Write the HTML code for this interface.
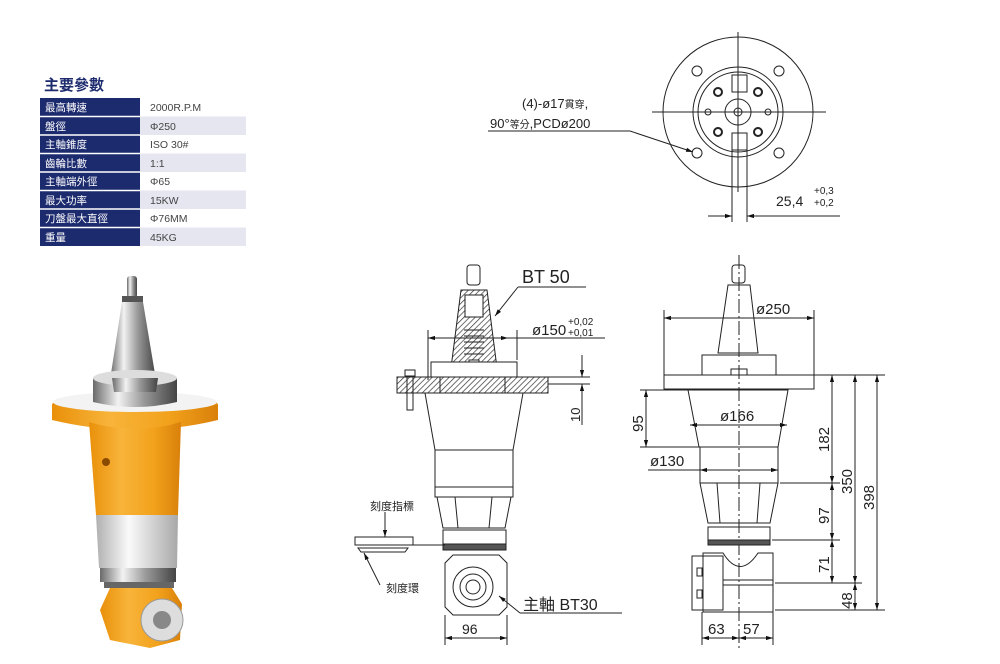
<!DOCTYPE html>
<html><head><meta charset="utf-8"><style>
body{margin:0;background:#fff}
svg{display:block}
.t{font-family:"Liberation Sans","Noto Sans CJK TC",sans-serif}
.d{font-family:"Liberation Sans","Noto Sans CJK TC",sans-serif;fill:#222}
</style></head><body>
<svg width="1000" height="664" viewBox="0 0 1000 664" xmlns="http://www.w3.org/2000/svg">
<defs>
<linearGradient id="or" x1="0" x2="1"><stop offset="0" stop-color="#e9900a"/><stop offset=".35" stop-color="#f8b43a"/><stop offset=".7" stop-color="#f2a21c"/><stop offset="1" stop-color="#d9800a"/></linearGradient>
<linearGradient id="sil" x1="0" x2="1"><stop offset="0" stop-color="#6a6a6a"/><stop offset=".3" stop-color="#f2f2f2"/><stop offset=".6" stop-color="#9a9a9a"/><stop offset="1" stop-color="#444"/></linearGradient>
<linearGradient id="wh" x1="0" x2="1"><stop offset="0" stop-color="#b0b0b0"/><stop offset=".4" stop-color="#fafafa"/><stop offset="1" stop-color="#a8a8a8"/></linearGradient>
<pattern id="h" width="4" height="4" patternUnits="userSpaceOnUse" patternTransform="rotate(45)"><rect width="4" height="4" fill="#fff"/><line x1="0" y1="0" x2="0" y2="4" stroke="#333" stroke-width="1.4"/></pattern>
<marker id="a" viewBox="0 0 10 10" refX="10" refY="5" markerWidth="7" markerHeight="7" orient="auto-start-reverse"><path d="M0,2 L10,5 L0,8z" fill="#111"/></marker>
</defs>

<!-- table -->
<text x="44" y="90" class="t" font-size="15" font-weight="bold" fill="#1c2a6e">主要參數</text>
<g class="t" font-size="10.5">
<rect x="40" y="98" width="100" height="148" fill="#1c2a6e"/>
<rect x="140" y="98" width="106" height="18.5" fill="#fff"/>
<rect x="140" y="116.5" width="106" height="18.5" fill="#e6e6f0"/>
<rect x="140" y="135" width="106" height="18.5" fill="#fff"/>
<rect x="140" y="153.5" width="106" height="18.5" fill="#e6e6f0"/>
<rect x="140" y="172" width="106" height="18.5" fill="#fff"/>
<rect x="140" y="190.5" width="106" height="18.5" fill="#e6e6f0"/>
<rect x="140" y="209" width="106" height="18.5" fill="#fff"/>
<rect x="140" y="227.5" width="106" height="18.5" fill="#e6e6f0"/>
<g stroke="#fff" stroke-width="1.5"><line x1="40" y1="116.5" x2="140" y2="116.5"/><line x1="40" y1="135" x2="140" y2="135"/><line x1="40" y1="153.5" x2="140" y2="153.5"/><line x1="40" y1="172" x2="140" y2="172"/><line x1="40" y1="190.5" x2="140" y2="190.5"/><line x1="40" y1="209" x2="140" y2="209"/><line x1="40" y1="227.5" x2="140" y2="227.5"/></g>
<g fill="#fff"><text x="45" y="111">最高轉速</text><text x="45" y="130">盤徑</text><text x="45" y="148">主軸錐度</text><text x="45" y="167">齒輪比數</text><text x="45" y="185">主軸端外徑</text><text x="45" y="204">最大功率</text><text x="45" y="222">刀盤最大直徑</text><text x="45" y="241">重量</text></g>
<g fill="#444"><text x="150" y="111">2000R.P.M</text><text x="150" y="130">Φ250</text><text x="150" y="148">ISO 30#</text><text x="150" y="167">1:1</text><text x="150" y="185">Φ65</text><text x="150" y="204">15KW</text><text x="150" y="222">Φ76MM</text><text x="150" y="241">45KG</text></g>
</g>

<!-- photo -->
<g>
<rect x="127" y="276" width="10" height="22" rx="3" fill="url(#sil)"/>
<rect x="122" y="296" width="21" height="6" fill="#555"/>
<path d="M122,302 L143,302 L156,380 L110,380z" fill="url(#sil)"/>
<ellipse cx="135" cy="405" rx="83" ry="12" fill="#e48a0c"/>
<path d="M52,405 L52,420 Q135,440 218,420 L218,405z" fill="url(#or)"/>
<ellipse cx="135" cy="402" rx="82" ry="10" fill="#f3f3f3"/>
<path d="M93,378 L177,378 L177,402 Q135,412 93,402z" fill="url(#sil)"/>
<ellipse cx="135" cy="378" rx="42" ry="8" fill="#ddd"/>
<path d="M112,378 L158,378 L156,392 L114,392z" fill="url(#sil)"/>
<path d="M89,422 Q135,436 181,422 L178,515 L96,515z" fill="url(#or)"/>
<circle cx="106" cy="462" r="4" fill="#8a4a00"/>
<path d="M96,515 L178,515 L177,568 L99,568z" fill="url(#wh)"/>
<rect x="100" y="568" width="76" height="14" fill="url(#sil)"/>
<rect x="104" y="582" width="70" height="6" fill="#666"/>
<path d="M110,588 L172,588 L182,604 L180,640 L150,648 L110,640 L100,610z" fill="url(#or)"/>
<circle cx="162" cy="620" r="21" fill="#ddd" stroke="#999"/>
<circle cx="162" cy="620" r="9" fill="#888"/>
</g>

<!-- top view -->
<g fill="none" stroke="#222" stroke-width="1">
<circle cx="738" cy="112" r="75"/>
<circle cx="738" cy="112" r="45"/><circle cx="738" cy="112" r="40"/>
<circle cx="738" cy="112" r="13"/><circle cx="738" cy="112" r="4"/>
<circle cx="697" cy="71" r="5"/><circle cx="779" cy="71" r="5"/><circle cx="697" cy="153" r="5"/><circle cx="779" cy="153" r="5"/>
<circle cx="718" cy="92" r="4" stroke-width="2"/><circle cx="758" cy="92" r="4" stroke-width="2"/><circle cx="718" cy="132" r="4" stroke-width="2"/><circle cx="758" cy="132" r="4" stroke-width="2"/>
<circle cx="708" cy="112" r="3"/><circle cx="768" cy="112" r="3"/>
<rect x="732" y="75" width="15" height="17"/><rect x="732" y="133" width="15" height="17"/>
<line x1="738" y1="32" x2="738" y2="192"/><line x1="652" y1="112" x2="826" y2="112"/>
<line x1="732" y1="150" x2="732" y2="222"/><line x1="747" y1="150" x2="747" y2="222"/>
<line x1="708" y1="216" x2="732" y2="216" marker-end="url(#a)"/><line x1="840" y1="216" x2="747" y2="216" marker-end="url(#a)"/>
<line x1="488" y1="131" x2="630" y2="131"/><line x1="630" y1="131" x2="693" y2="152" marker-end="url(#a)"/>
</g>
<g class="d" font-size="13"><text x="522" y="108">(4)-ø17<tspan font-size="10">貫穿</tspan>,</text><text x="490" y="128">90°<tspan font-size="10">等分</tspan>,PCDø200</text>
<text x="776" y="206" font-size="14">25,4</text><text x="814" y="194" font-size="10">+0,3</text><text x="814" y="206" font-size="10">+0,2</text></g>

<!-- front section view -->
<g fill="none" stroke="#222" stroke-width="1">
<rect x="467" y="265" width="13" height="20" rx="3"/>
<path d="M461,290 L487,290 L497,368 L451,368z" fill="url(#h)"/>
<rect x="465" y="295" width="18" height="22" fill="#fff"/>
<path d="M464,330 h20 M464,336 h20 M464,342 h20 M464,348 h20 M464,354 h20" />
<rect x="469" y="360" width="10" height="14" fill="#fff"/>
<rect x="431" y="362" width="86" height="15" fill="#fff"/>
<rect x="397" y="377" width="151" height="16" fill="url(#h)"/>
<rect x="440" y="377" width="65" height="16" fill="url(#h)"/>
<rect x="405" y="370" width="10" height="6"/><rect x="407" y="376" width="6" height="34"/>
<path d="M425,393 L523,393 L513,450 L435,450z"/>
<rect x="435" y="450" width="78" height="47"/><line x1="435" y1="487" x2="513" y2="487"/>
<path d="M437,497 L511,497 L505,528 L443,528z"/>
<line x1="455" y1="497" x2="458" y2="528"/><line x1="492" y1="497" x2="489" y2="528"/>
<rect x="443" y="530" width="63" height="14"/>
<rect x="443" y="544" width="63" height="6" fill="#555"/>
<path d="M453,555 L499,555 L507,563 L507,607 L499,615 L453,615 L445,607 L445,563z"/>
<circle cx="473" cy="587" r="20"/><circle cx="473" cy="587" r="13"/><circle cx="473" cy="587" r="7"/>
<rect x="355" y="537" width="58" height="8"/><path d="M358,548 h50 l-3,4 h-44z"/>
<line x1="413" y1="545" x2="445" y2="545"/>
<line x1="385" y1="512" x2="385" y2="537" marker-end="url(#a)"/>
<line x1="380" y1="585" x2="364" y2="553" marker-end="url(#a)"/>
<line x1="518" y1="287" x2="586" y2="287"/><line x1="518" y1="287" x2="495" y2="316" marker-end="url(#a)"/>
<line x1="428" y1="330" x2="428" y2="380"/><line x1="517" y1="330" x2="517" y2="360"/>
<line x1="428" y1="338" x2="508" y2="338" marker-start="url(#a)" marker-end="url(#a)"/><line x1="508" y1="338" x2="605" y2="338"/>
<line x1="548" y1="377" x2="590" y2="377"/><line x1="548" y1="384" x2="590" y2="384"/>
<line x1="582" y1="355" x2="582" y2="377" marker-end="url(#a)"/><line x1="582" y1="425" x2="582" y2="384" marker-end="url(#a)"/>
<line x1="445" y1="615" x2="445" y2="645"/><line x1="507" y1="615" x2="507" y2="645"/>
<line x1="445" y1="638" x2="507" y2="638" marker-start="url(#a)" marker-end="url(#a)"/>
<line x1="520" y1="613" x2="622" y2="613"/><line x1="520" y1="613" x2="499" y2="596" marker-end="url(#a)"/>
</g>
<g class="d"><text x="522" y="283" font-size="18">BT 50</text>
<text x="532" y="335" font-size="15">ø150</text><text x="568" y="325" font-size="10">+0,02</text><text x="568" y="336" font-size="10">+0,01</text>
<text transform="translate(580,422) rotate(-90)" font-size="13">10</text>
<text x="370" y="510" font-size="11">刻度指標</text><text x="386" y="592" font-size="11">刻度環</text>
<text x="523" y="610" font-size="16">主軸 BT30</text><text x="462" y="634" font-size="14">96</text></g>

<!-- side view -->
<g fill="none" stroke="#222" stroke-width="1">
<line x1="739" y1="255" x2="739" y2="650" stroke-dasharray="14 3 2 3"/>
<rect x="732" y="265" width="13" height="18" rx="3"/>
<path d="M728,285 L750,285 L758,353 L718,353z"/>
<rect x="702" y="355" width="74" height="20"/><rect x="731" y="369" width="16" height="6"/>
<rect x="664" y="375" width="150" height="14"/>
<path d="M688,390 L788,390 L778,447 L699,447z"/>
<rect x="700" y="447" width="78" height="36"/>
<path d="M700,483 L778,483 L770,523 L708,523z"/>
<line x1="717" y1="483" x2="720" y2="523"/><line x1="760" y1="483" x2="757" y2="523"/>
<rect x="708" y="527" width="62" height="13"/><rect x="708" y="540" width="62" height="5" fill="#555"/>
<path d="M718,553 L723,553 Q740,580 758,553 L773,553 L773,612 L703,612 L703,553z"/>
<rect x="692" y="556" width="31" height="54"/><rect x="697" y="568" width="5" height="8"/><rect x="697" y="590" width="5" height="8"/>
<line x1="723" y1="580" x2="773" y2="580"/><line x1="723" y1="585" x2="773" y2="585"/>
<line x1="664" y1="310" x2="664" y2="375"/><line x1="814" y1="310" x2="814" y2="375"/>
<line x1="664" y1="318" x2="814" y2="318" marker-start="url(#a)" marker-end="url(#a)"/>
<line x1="690" y1="425" x2="787" y2="425" marker-start="url(#a)" marker-end="url(#a)"/>
<line x1="640" y1="390" x2="688" y2="390"/><line x1="640" y1="447" x2="699" y2="447"/>
<line x1="646" y1="390" x2="646" y2="447" marker-start="url(#a)" marker-end="url(#a)"/>
<line x1="648" y1="470" x2="700" y2="470"/>
<line x1="700" y1="470" x2="778" y2="470" marker-start="url(#a)" marker-end="url(#a)"/>
<line x1="814" y1="375" x2="885" y2="375"/>
<line x1="780" y1="483" x2="840" y2="483"/><line x1="772" y1="540" x2="840" y2="540"/>
<line x1="775" y1="583" x2="862" y2="583"/><line x1="775" y1="610" x2="885" y2="610"/>
<line x1="832" y1="375" x2="832" y2="483" marker-start="url(#a)" marker-end="url(#a)"/>
<line x1="832" y1="483" x2="832" y2="540" marker-start="url(#a)" marker-end="url(#a)"/>
<line x1="832" y1="540" x2="832" y2="583" marker-start="url(#a)" marker-end="url(#a)"/>
<line x1="855" y1="375" x2="855" y2="583" marker-start="url(#a)" marker-end="url(#a)"/>
<line x1="855" y1="583" x2="855" y2="610" marker-start="url(#a)" marker-end="url(#a)"/>
<line x1="877" y1="375" x2="877" y2="610" marker-start="url(#a)" marker-end="url(#a)"/>
<line x1="702" y1="612" x2="702" y2="645"/><line x1="773" y1="612" x2="773" y2="645"/>
<line x1="702" y1="638" x2="739" y2="638" marker-start="url(#a)" marker-end="url(#a)"/>
<line x1="739" y1="638" x2="773" y2="638" marker-start="url(#a)" marker-end="url(#a)"/>
</g>
<g class="d" font-size="15">
<text x="756" y="314">ø250</text><text x="720" y="421">ø166</text><text x="650" y="466">ø130</text>
<text transform="translate(643,432) rotate(-90)">95</text>
<text transform="translate(829,452) rotate(-90)">182</text>
<text transform="translate(852,494) rotate(-90)">350</text>
<text transform="translate(874,510) rotate(-90)">398</text>
<text transform="translate(829,524) rotate(-90)">97</text>
<text transform="translate(829,573) rotate(-90)">71</text>
<text transform="translate(852,609) rotate(-90)">48</text>
<text x="708" y="634">63</text><text x="743" y="634">57</text>
</g>
</svg>
</body></html>
